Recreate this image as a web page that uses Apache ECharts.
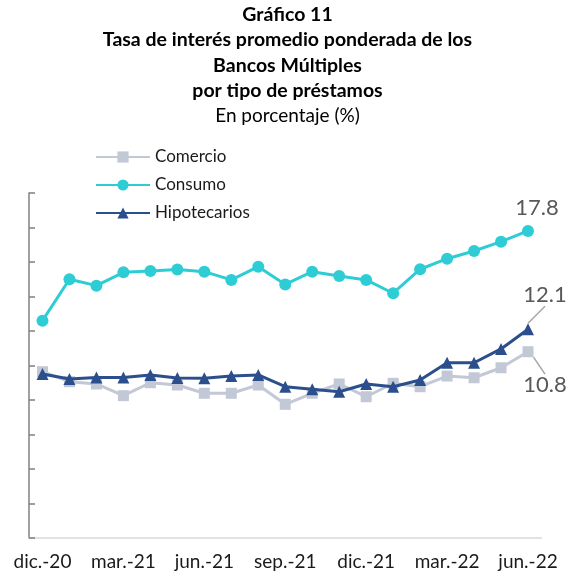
<!DOCTYPE html>
<html>
<head>
<meta charset="utf-8">
<script src="https://cdn.jsdelivr.net/npm/echarts@6/dist/echarts.min.js"></script>
<style>html,body{margin:0;padding:0;background:#fff}#c{width:575px;height:579px}</style>
</head>
<body>
<div id="c"></div>
<script>
var categories = ['dic.-20','ene.-21','feb.-21','mar.-21','abr.-21','may.-21','jun.-21','jul.-21','ago.-21','sep.-21','oct.-21','nov.-21','dic.-21','ene.-22','feb.-22','mar.-22','abr.-22','may.-22','jun.-22'];
var comercio =     [9.64, 9.06, 8.93, 8.25, 9.00, 8.87, 8.39, 8.39, 8.87, 7.75, 8.39, 8.93, 8.19, 8.97, 8.77, 9.39, 9.29, 9.87, 10.8];
var consumo =      [12.6, 15.0, 14.63, 15.4, 15.48, 15.56, 15.44, 14.96, 15.73, 14.7, 15.44, 15.19, 14.96, 14.19, 15.58, 16.19, 16.64, 17.18, 17.8];
var hipotecarios = [9.51, 9.22, 9.31, 9.31, 9.45, 9.28, 9.26, 9.39, 9.45, 8.77, 8.62, 8.48, 8.93, 8.77, 9.16, 10.16, 10.16, 10.96, 12.1];
var yMin = 0, yMax = 20, yStep = 2;

var FONT = 'Lato, "Liberation Sans", sans-serif';
var chart = echarts.init(document.getElementById('c'), null, {renderer: 'canvas'});

function lastLabel(arr, labelCfg) {
  return arr.map(function (v, i) {
    if (i === arr.length - 1) {
      return { value: v, label: Object.assign({ show: true, formatter: String(v.toFixed(1)), color: '#595959', fontSize: 22, fontFamily: FONT }, labelCfg) };
    }
    return v;
  });
}

chart.setOption({
  animation: false,
  title: {
    text: 'Gráfico 11\nTasa de interés promedio ponderada de los\nBancos Múltiples\npor tipo de préstamos',
    subtext: 'En porcentaje (%)',
    left: 'center',
    top: -3,
    itemGap: 0,
    textStyle: { fontFamily: FONT, fontSize: 19.5, fontWeight: 'bold', color: '#000', lineHeight: 25.3 },
    subtextStyle: { fontFamily: FONT, fontSize: 19, color: '#000', lineHeight: 25.3 }
  },
  legend: {
    orient: 'vertical',
    left: 90,
    top: 143,
    itemWidth: 54,
    itemHeight: 14,
    itemGap: 10,
    textStyle: { fontFamily: FONT, fontSize: 17, color: '#1a1a1a', lineHeight: 18 },
    data: ['Comercio', 'Consumo', 'Hipotecarios']
  },
  grid: { left: 29, right: 33.5, top: 193, bottom: 41, containLabel: false },
  xAxis: {
    type: 'category',
    data: categories,
    boundaryGap: true,
    axisLine: { lineStyle: { color: '#d9d9d9', width: 1.5 } },
    axisTick: { interval: 2, length: 7, lineStyle: { color: '#d9d9d9', width: 1.5 } },
    axisLabel: { interval: 2, margin: 14, fontFamily: FONT, fontSize: 19, color: '#1a1a1a' }
  },
  yAxis: {
    type: 'value',
    min: yMin, max: yMax, interval: yStep,
    axisLine: { show: true, lineStyle: { color: '#808080', width: 1.5 } },
    axisTick: { show: true, inside: true, length: 6, lineStyle: { color: '#808080', width: 1.5 } },
    axisLabel: { show: false },
    splitLine: { show: false }
  },
  series: [
    {
      name: 'Comercio', type: 'line', data: lastLabel(comercio, { position: 'bottom', padding: [10, 0, 0, 0] }),
      symbol: 'rect', symbolSize: 11,
      itemStyle: { color: '#c3c8d6' }, lineStyle: { color: '#c3c8d6', width: 3 },
      labelLine: { show: true, lineStyle: { color: '#a6a6a6', width: 1.5 } },
      labelLayout: function (p) { return p.dataIndex === comercio.length - 1 ? { dx: 17, dy: 2 } : {}; },
      z: 2
    },
    {
      name: 'Consumo', type: 'line', data: lastLabel(consumo, { position: 'top', offset: [9, -1] }),
      symbol: 'circle', symbolSize: 12,
      itemStyle: { color: '#2ecdd5' }, lineStyle: { color: '#2ecdd5', width: 3 },
      z: 3
    },
    {
      name: 'Hipotecarios', type: 'line', data: lastLabel(hipotecarios, { position: 'top', padding: [0, 0, 10, 0] }),
      symbol: 'triangle', symbolSize: 12,
      itemStyle: { color: '#2b4f8c' }, lineStyle: { color: '#2b4f8c', width: 3 },
      labelLine: { show: true, lineStyle: { color: '#a6a6a6', width: 1.5 } },
      labelLayout: function (p) { return p.dataIndex === hipotecarios.length - 1 ? { dx: 17, dy: -2 } : {}; },
      z: 4
    }
  ]
});
</script>
</body>
</html>
